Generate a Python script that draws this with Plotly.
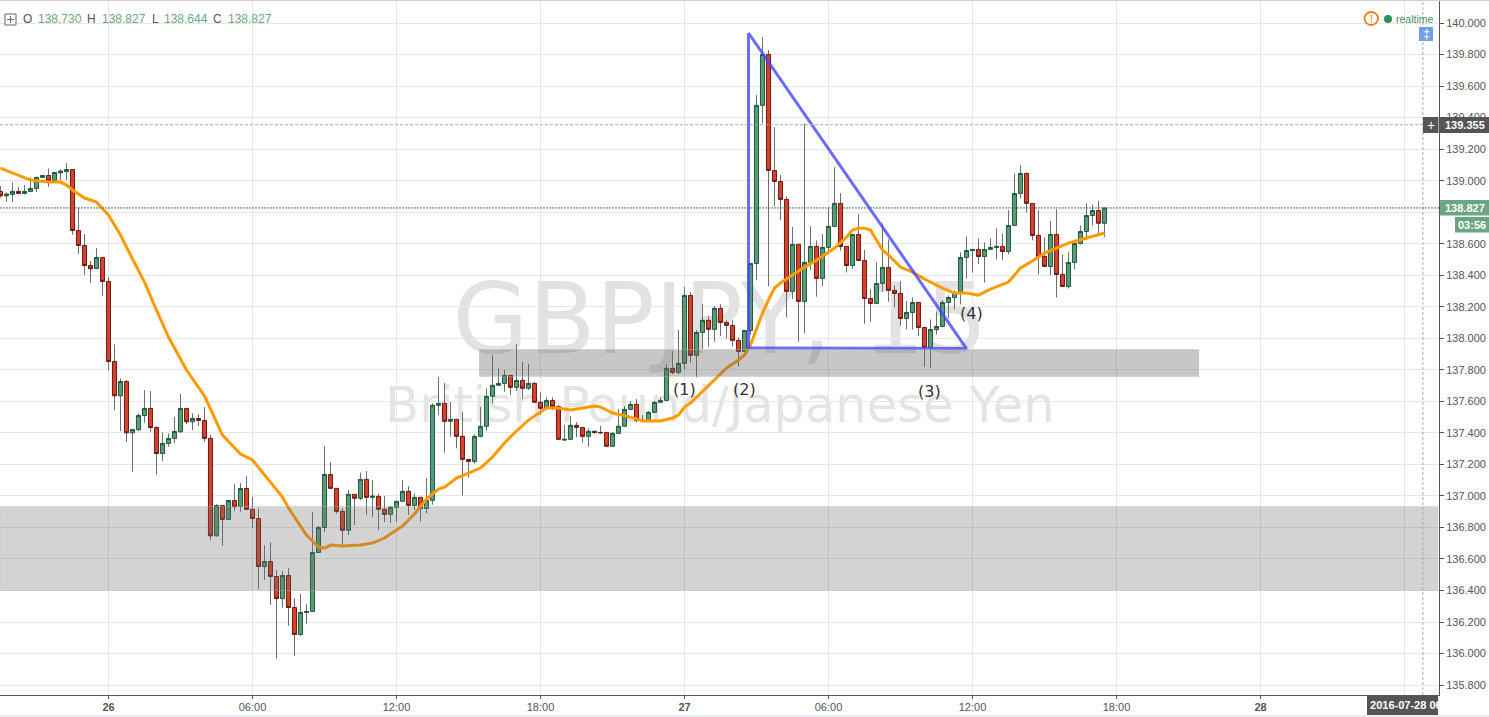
import pandas as pd
import plotly.graph_objects as go

# ---------- data ----------
start_time = "2016-07-25 19:30"
opens = [138.932,138.904,138.913,138.932,138.919,138.932,138.951,139.021,139.033,139.002,139.050,139.057,139.071,138.684,138.589,138.462,138.443,138.513,138.361,137.853,
137.635,137.726,137.400,137.420,137.510,137.555,137.434,137.269,137.333,137.365,137.407,137.555,137.470,137.491,137.479,137.365,136.747,136.939,136.851,136.971,
136.933,137.047,136.914,136.857,136.552,136.584,136.489,136.349,136.495,136.292,136.121,136.261,136.267,136.641,136.800,137.136,137.048,136.902,136.782,137.010,
136.985,137.105,136.991,136.997,136.915,136.883,136.928,136.966,137.029,136.940,136.991,136.921,136.972,137.575,137.587,137.473,137.486,137.378,137.232,137.219,
137.378,137.442,137.632,137.702,137.714,137.765,137.689,137.733,137.683,137.714,137.594,137.556,137.606,137.568,137.355,137.359,137.448,137.435,137.378,137.410,
137.403,137.403,137.315,137.397,137.442,137.549,137.581,137.480,137.473,137.530,137.594,137.606,137.810,137.784,137.841,138.272,137.892,138.037,138.114,138.057,
138.190,138.101,138.082,137.987,137.917,138.050,138.475,139.478,139.801,139.065,138.995,138.881,138.298,138.596,138.234,138.482,138.583,138.380,138.577,138.710,
138.856,138.583,138.462,138.659,138.494,138.253,138.221,138.348,138.450,138.304,138.285,138.126,138.164,138.227,138.069,137.942,138.056,138.075,138.227,138.259,
138.291,138.513,138.557,138.564,138.519,138.564,138.576,138.583,138.551,138.716,138.919,139.046,138.856,138.653,138.519,138.456,138.659,138.405,138.329,138.481,
138.602,138.678,138.779,138.811,138.730]
highs = [138.966,138.925,138.989,138.961,138.972,139.021,139.025,139.033,139.078,139.052,139.073,139.112,139.071,138.830,138.661,138.490,138.572,138.513,138.388,137.961,
137.745,137.735,137.422,137.523,137.671,137.665,137.443,137.403,137.396,137.500,137.646,137.555,137.523,137.519,137.563,137.390,136.948,136.939,136.971,137.075,
137.081,137.126,136.992,136.920,136.688,136.707,136.529,136.523,136.542,136.351,136.377,136.313,136.897,136.808,137.316,137.215,137.048,136.921,137.038,137.010,
137.148,137.158,137.101,137.012,136.999,136.936,136.966,137.101,137.063,137.016,136.991,137.114,137.587,137.755,137.716,137.596,137.486,137.532,137.232,137.391,
137.564,137.683,137.894,137.810,137.799,137.765,137.964,137.850,137.837,137.723,137.657,137.626,137.626,137.577,137.450,137.507,137.469,137.435,137.429,137.414,
137.444,137.403,137.406,137.549,137.571,137.602,137.615,137.513,137.539,137.602,137.626,137.835,137.919,138.052,138.327,138.293,138.053,138.217,138.143,138.205,
138.217,138.114,138.114,138.006,138.050,138.475,139.543,139.911,139.829,139.340,139.036,138.900,138.706,138.596,139.363,138.712,138.621,138.661,138.831,139.086,
138.921,138.583,138.659,138.788,138.560,138.310,138.482,138.729,138.627,138.336,138.363,138.236,138.259,138.227,138.069,138.120,138.170,138.242,138.272,138.304,
138.545,138.646,138.564,138.634,138.608,138.634,138.697,138.665,138.813,139.046,139.099,139.052,138.856,138.813,138.640,138.744,138.818,138.532,138.547,138.602,
138.716,138.856,138.849,138.870,138.827]
lows = [138.892,138.866,138.866,138.913,138.913,138.932,138.928,139.021,138.961,139.002,139.004,139.004,138.657,138.536,138.401,138.352,138.443,138.270,137.798,137.544,
137.411,137.341,137.153,137.411,137.464,137.407,137.134,137.221,137.312,137.335,137.400,137.455,137.417,137.443,137.343,136.719,136.741,136.683,136.851,136.903,
136.899,136.914,136.798,136.409,136.468,136.309,135.967,136.290,136.176,135.986,136.112,136.189,136.267,136.641,136.770,137.048,136.887,136.686,136.752,136.815,
136.974,136.879,136.866,136.784,136.835,136.828,136.835,136.966,136.879,136.911,136.837,136.889,136.944,137.513,137.274,137.376,137.302,137.002,137.116,137.205,
137.372,137.414,137.587,137.702,137.661,137.640,137.666,137.615,137.672,137.594,137.513,137.549,137.545,137.359,137.348,137.359,137.372,137.338,137.312,137.393,
137.393,137.315,137.315,137.397,137.442,137.545,137.465,137.469,137.473,137.530,137.594,137.606,137.771,137.771,137.805,137.845,137.752,137.934,137.947,137.978,
138.014,137.999,137.949,137.820,137.911,138.021,138.369,139.363,138.331,138.839,138.750,138.133,138.249,137.978,138.031,138.435,138.264,138.331,138.532,138.710,
138.556,138.418,138.441,138.494,138.092,138.105,138.221,138.295,138.232,138.196,138.079,138.057,138.056,138.014,137.819,137.813,138.024,138.075,138.126,138.183,
138.215,138.380,138.418,138.471,138.354,138.564,138.500,138.494,138.532,138.716,138.887,138.798,138.621,138.405,138.456,138.399,138.259,138.329,138.316,138.437,
138.595,138.623,138.716,138.659,138.644]
closes = [138.904,138.915,138.932,138.919,138.932,138.951,139.021,139.033,138.999,139.052,139.061,139.071,138.684,138.589,138.462,138.441,138.513,138.361,137.853,137.635,
137.726,137.400,137.422,137.510,137.555,137.434,137.269,137.333,137.365,137.409,137.555,137.470,137.491,137.479,137.365,136.747,136.939,136.851,136.971,136.931,
137.047,136.914,136.857,136.552,136.584,136.489,136.349,136.495,136.292,136.121,136.261,136.267,136.641,136.800,137.136,137.048,136.902,136.782,137.010,136.985,
137.105,136.991,136.999,136.915,136.883,136.928,136.966,137.029,136.940,136.991,136.921,136.972,137.575,137.587,137.473,137.486,137.378,137.232,137.219,137.378,
137.442,137.632,137.702,137.714,137.765,137.689,137.733,137.683,137.714,137.594,137.556,137.606,137.568,137.359,137.359,137.448,137.435,137.378,137.410,137.403,
137.401,137.315,137.397,137.442,137.549,137.581,137.480,137.473,137.530,137.594,137.606,137.810,137.784,137.841,138.272,137.892,138.037,138.114,138.057,138.190,
138.101,138.082,137.987,137.917,138.050,138.475,139.478,139.801,139.065,138.995,138.881,138.298,138.596,138.234,138.482,138.583,138.380,138.577,138.710,138.856,
138.583,138.462,138.659,138.494,138.253,138.221,138.348,138.450,138.304,138.285,138.126,138.164,138.227,138.069,137.942,138.056,138.075,138.227,138.259,138.291,
138.513,138.557,138.564,138.519,138.564,138.576,138.583,138.551,138.716,138.919,139.046,138.856,138.653,138.519,138.456,138.659,138.405,138.329,138.481,138.602,
138.678,138.779,138.811,138.730,138.827]

ma_bars = [0,3,5,8,10,11,12,14,16,18,20,22,24,26,28,31,34,37,40,42,44,47,48,51,53,54,55,57,60,62,64,67,69,71,73,74,76,78,80,82,84,86,88,90,91,93,95,97,99,100,102,105,107,110,112,113,114,115,116,119,121,123,124,125,127,128,129,130,131,133,136,139,141,142,143,144,145,146,147,148,150,152,154,157,159,161,163,165,168,170,172,174,176,178,181,184]
ma_values = [139.080,139.036,139.004,138.991,138.991,138.972,138.941,138.890,138.864,138.782,138.655,138.503,138.357,138.179,138.008,137.799,137.634,137.386,137.266,137.228,137.133,136.993,136.923,136.752,136.676,136.669,136.688,136.682,136.688,136.701,136.733,136.809,136.885,136.980,137.044,137.056,137.113,137.145,137.177,137.247,137.336,137.412,137.481,137.532,137.558,137.558,137.545,137.558,137.570,137.564,137.526,137.500,137.475,137.475,137.494,137.513,137.564,137.589,137.627,137.735,137.811,137.862,137.894,137.957,138.160,138.243,138.319,138.351,138.376,138.427,138.496,138.573,138.642,138.687,138.699,138.699,138.687,138.623,138.560,138.528,138.452,138.420,138.376,138.319,138.287,138.287,138.274,138.312,138.357,138.446,138.490,138.541,138.573,138.604,138.636,138.668]

triangle_time = ["2016-07-27 02:40", "2016-07-27 02:40", "2016-07-27 11:45", "2016-07-27 02:40"]
triangle_price = [139.937, 137.938, 137.935, 139.937]

zone_low = [136.400, 136.933]
zone_high = [137.757, 137.929]
zone_high_time = ["2016-07-26 15:27", "2016-07-27 21:26"]

crosshair_price = 139.355
crosshair_time = "2016-07-28 06:46"
last_price = 138.827
y_ticks = [135.8 + 0.2 * i for i in range(22)]
y_tick_labels = ["" if abs(v - 138.8) < 0.01 else f"{v:.3f}" for v in y_ticks]
x_tick_times = ["2016-07-26 00:00", "2016-07-26 06:00", "2016-07-26 12:00", "2016-07-26 18:00",
                "2016-07-27 00:00", "2016-07-27 06:00", "2016-07-27 12:00", "2016-07-27 18:00",
                "2016-07-28 00:00", "2016-07-28 06:00"]
x_tick_labels = ["<b>26</b>", "06:00", "12:00", "18:00", "<b>27</b>", "06:00", "12:00", "18:00", "<b>28</b>", ""]
ohlc_labels = ["O", "H", "L", "C"]
ohlc_values = ["138.730", "138.827", "138.644", "138.827"]
level_labels = ["(1)", "(2)", "(3)", "(4)"]

# ---------- figure geometry ----------
W, H = 1489, 717
L, R, T, B = 0, 1439, 1, 695
GREEN, RED = "#5B9A78", "#D4432F"
GREEN_D, RED_D = "#1E5B3C", "#6E1A10"
LBL = "Liberation Sans, Arial, sans-serif"
WM = "DejaVu Sans"

def px_x(x): return (x - L) / (R - L)
def px_y(y): return (B - y) / (B - T)

times = pd.date_range(start_time, periods=len(opens), freq="15min")
ma_times = [times[i] for i in ma_bars]
mids = [(o + c) / 2 for o, c in zip(opens, closes)]
body_hi = [max(o, c) for o, c in zip(opens, closes)]
body_lo = [min(o, c) for o, c in zip(opens, closes)]

fig = go.Figure()
# wicks
fig.add_trace(go.Candlestick(
    x=times, open=mids, high=highs, low=lows, close=mids, whiskerwidth=0,
    increasing=dict(line=dict(color="#6E6E6E", width=1), fillcolor="#6E6E6E"),
    decreasing=dict(line=dict(color="#6E6E6E", width=1), fillcolor="#6E6E6E"),
    hoverinfo="skip", showlegend=False))
# bodies
fig.add_trace(go.Candlestick(
    x=times, open=opens, high=body_hi, low=body_lo, close=closes, whiskerwidth=0,
    increasing=dict(line=dict(color=GREEN_D, width=1), fillcolor=GREEN),
    decreasing=dict(line=dict(color=RED_D, width=1), fillcolor=RED),
    showlegend=False))
fig.add_trace(go.Scatter(x=ma_times, y=ma_values, mode="lines", showlegend=False,
                         line=dict(color="#FF9A00", width=3), hoverinfo="skip"))
fig.add_trace(go.Scatter(x=triangle_time, y=triangle_price, mode="lines", showlegend=False,
                         line=dict(color="rgba(70,70,255,0.8)", width=3), hoverinfo="skip"))

shapes = [
    # watermark, beneath the candles
    dict(type="rect", xref="paper", yref="paper", layer="below", line_width=0,
         x0=px_x(420), x1=px_x(1020), y0=px_y(372), y1=px_y(252),
         label=dict(text="GBPJPY, 15", textposition="middle center",
                    font=dict(family=WM, size=98, color="#E2E2E2"))),
    dict(type="rect", xref="paper", yref="paper", layer="below", line_width=0,
         x0=px_x(360), x1=px_x(1080), y0=px_y(431), y1=px_y(371),
         label=dict(text="British Pound/Japanese Yen", textposition="middle center",
                    font=dict(family=WM, size=49.5, color="#E4E4E4"))),
    # zones
    dict(type="rect", xref="paper", yref="y", layer="above", x0=0, x1=px_x(1438),
         y0=zone_low[0], y1=zone_low[1], fillcolor="rgba(110,110,110,0.3)",
         line=dict(color="rgba(190,190,190,0.35)", width=1)),
    dict(type="rect", xref="x", yref="y", layer="above", x0=zone_high_time[0], x1=zone_high_time[1],
         y0=zone_high[0], y1=zone_high[1], fillcolor="rgba(100,100,100,0.36)",
         line=dict(color="rgba(190,190,190,0.4)", width=1)),
    # crosshair and last price lines
    dict(type="line", xref="paper", yref="y", layer="above", x0=0, x1=1, y0=crosshair_price, y1=crosshair_price,
         line=dict(color="#A8A8A8", width=1, dash="3px,2px")),
    dict(type="line", xref="x", yref="paper", layer="above", x0=crosshair_time, x1=crosshair_time, y0=0, y1=1,
         line=dict(color="#A8A8A8", width=1, dash="3px,2px")),
    dict(type="line", xref="paper", yref="y", layer="above", x0=0, x1=1, y0=last_price, y1=last_price,
         line=dict(color="#3F7A5B", width=1, dash="2px,1px")),
    # axis value boxes
    dict(type="rect", xref="paper", yref="paper", x0=px_x(1440), x1=px_x(1489), y0=px_y(133), y1=px_y(117),
         fillcolor="#555555", line_width=0),
    dict(type="rect", xref="paper", yref="paper", x0=px_x(1423), x1=px_x(1438.5), y0=px_y(133), y1=px_y(117),
         fillcolor="#555555", line_width=0),
    dict(type="rect", xref="paper", yref="paper", x0=px_x(1440), x1=px_x(1489), y0=px_y(215.5), y1=px_y(200),
         fillcolor="#6BA583", line_width=0),
    dict(type="rect", xref="paper", yref="paper", x0=px_x(1455), x1=px_x(1489), y0=px_y(232.5), y1=px_y(217),
         fillcolor="#6BA583", line_width=0),
    dict(type="rect", xref="paper", yref="paper", x0=px_x(1419), x1=px_x(1433), y0=px_y(41), y1=px_y(27),
         fillcolor="#6FA0E2", line_width=0),
    # status icons
    dict(type="circle", xref="paper", yref="paper", x0=px_x(1364.5), x1=px_x(1378), y0=px_y(25), y1=px_y(12),
         fillcolor="white", line=dict(color="#F57C14", width=1.8)),
    dict(type="circle", xref="paper", yref="paper", x0=px_x(1384), x1=px_x(1392), y0=px_y(23), y1=px_y(15),
         fillcolor="#2F8F5F", line_width=0),
    # legend toggle icon
    dict(type="rect", xref="paper", yref="paper", x0=px_x(5), x1=px_x(16), y0=px_y(25), y1=px_y(14),
         fillcolor="white", line=dict(color="#666666", width=1)),
    dict(type="line", xref="paper", yref="paper", x0=px_x(7), x1=px_x(14), y0=px_y(19.5), y1=px_y(19.5),
         line=dict(color="#666666", width=1)),
    dict(type="line", xref="paper", yref="paper", x0=px_x(10.5), x1=px_x(10.5), y0=px_y(23), y1=px_y(16),
         line=dict(color="#666666", width=1)),
    # page strips
    dict(type="rect", xref="paper", yref="paper", x0=0, x1=px_x(1489), y0=px_y(717), y1=px_y(715),
         fillcolor="#E8EEF2", line_width=0),
    dict(type="rect", xref="paper", yref="paper", x0=0, x1=px_x(1489), y0=px_y(1), y1=px_y(0),
         fillcolor="#CFCFCF", line_width=0),
]

anns = []
def text(x, y, s, size=12, color="#555555", anchor="left", family=LBL, **kw):
    anns.append(dict(xref="paper", yref="paper", x=px_x(x), y=px_y(y), text=s, showarrow=False,
                     xanchor=anchor, yanchor="middle", borderpad=0, borderwidth=0,
                     font=dict(family=family, size=size, color=color), **kw))

for x, s in zip([23, 87, 152, 213], ohlc_labels):
    text(x, 19.5, s)
for x, s in zip([37.5, 101.5, 163.5, 228], ohlc_values):
    text(x, 19.5, s, color="#6BA583")
for (x, y), s in zip([(684, 390), (744, 390), (930, 391), (972, 313)], level_labels):
    text(x, y, s, size=16, color="#333333", anchor="center", family=WM)
text(1396, 18.5, "realtime", size=10.5, color="#3F9068")
text(1371.3, 18.5, "!", size=11, color="#F57C14", anchor="center")
text(1426, 34, "‡", size=13, color="white", anchor="center")
text(1430.5, 125, "+", size=14, color="white", anchor="center")
text(1464.5, 125, "<b>139.355</b>", size=11, color="white", anchor="center")
text(1464.5, 208, "<b>138.827</b>", size=11, color="white", anchor="center")
text(1472, 225, "<b>03:56</b>", size=11, color="white", anchor="center")
anns.append(dict(xref="paper", yref="paper", x=px_x(1367), y=px_y(695), xanchor="left", yanchor="top",
                 text="&nbsp;<b>2016-07-28 06:00</b>", showarrow=False, width=71, height=20, align="left",
                 bgcolor="#555555", borderpad=0, borderwidth=0,
                 font=dict(family=LBL, size=11, color="white")))

fig.update_layout(
    width=W, height=H, margin=dict(l=L, r=W - R, t=T, b=H - B),
    paper_bgcolor="white", plot_bgcolor="white", showlegend=False,
    boxmode="overlay", boxgap=0.15, boxgroupgap=0.2, hovermode=False, shapes=shapes, annotations=anns,
    xaxis=dict(type="date", range=["2016-07-25 19:28:45", "2016-07-28 07:26:15"],
               rangeslider=dict(visible=False), tickmode="array", tickvals=x_tick_times, ticktext=x_tick_labels,
               showgrid=True, gridcolor="#E6E6E6", gridwidth=1, zeroline=False,
               showline=True, linecolor="#555555", linewidth=1,
               ticks="outside", ticklen=3, tickcolor="#555555", tickangle=0, ticklabelstandoff=-1,
               tickfont=dict(family=LBL, size=11, color="#555555")),
    yaxis=dict(side="right", range=[135.737, 140.140], tickmode="array", tickvals=y_ticks, ticktext=y_tick_labels,
               showgrid=True, gridcolor="#E6E6E6", gridwidth=1, zeroline=False,
               showline=True, linecolor="#555555", linewidth=1,
               ticks="outside", ticklen=4, tickcolor="#555555",
               tickfont=dict(family=LBL, size=11, color="#555555")),
)

fig.write_html("out.html", config=dict(displayModeBar=False),
               post_script="document.body.style.margin='0';")
